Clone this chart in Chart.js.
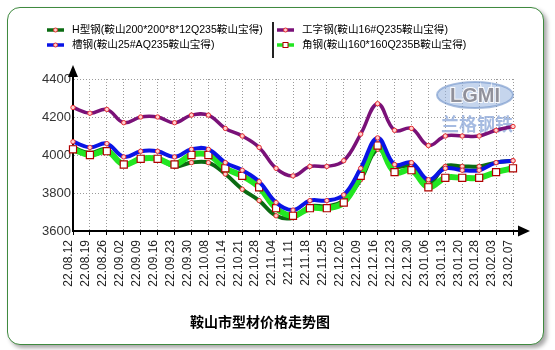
<!DOCTYPE html>
<html>
<head>
<meta charset="utf-8">
<script src="https://cdn.jsdelivr.net/npm/chart.js@4.4.1/dist/chart.umd.min.js"></script>
<style>
    html, body { margin: 0; padding: 0; background: #fff; }
    #wrap { position: relative; width: 555px; height: 350px; }
    #frame {
        position: absolute; left: 7px; top: 7px; width: 535px; height: 336px;
        border: 1px solid #3f8a3f; border-radius: 13px;
        box-shadow: 3px 3px 4px rgba(0, 0, 0, 0.35);
        background: #fff;
    }
    #chart { position: absolute; left: 0; top: 0; }
</style>
</head>
<body>
<div id="wrap">
    <div id="frame"></div>
    <canvas id="chart" width="555" height="350"></canvas>
</div>
<script>
// ============================================================================
// 鞍山市型材价格走势图 - 数据
// ============================================================================

const labels = [
    '22.08.12', '22.08.19', '22.08.26', '22.09.02', '22.09.09', '22.09.16', '22.09.23',
    '22.09.30', '22.10.08', '22.10.14', '22.10.21', '22.10.28', '22.11.04', '22.11.11',
    '22.11.18', '22.11.25', '22.12.02', '22.12.09', '22.12.16', '22.12.23', '22.12.30',
    '23.01.06', '23.01.13', '23.01.20', '23.01.28', '23.02.03', '23.02.07'
];

const seriesNames = [
    'H型钢(鞍山200*200*8*12Q235鞍山宝得)',
    '槽钢(鞍山25#AQ235鞍山宝得)',
    '工字钢(鞍山16#Q235鞍山宝得)',
    '角钢(鞍山160*160Q235B鞍山宝得)'
];

const hBeam   = [4040, 4010, 4030, 3950, 3980, 3980, 3940, 3960, 3960, 3900, 3820, 3760, 3680, 3670,
                 3730, 3730, 3760, 3870, 4030, 3940, 3940, 3850, 3940, 3940, 3940, 3960, 3970];
const channel = [4070, 4040, 4060, 3990, 4020, 4020, 3990, 4030, 4030, 3960, 3920, 3860, 3750, 3710,
                 3760, 3760, 3790, 3930, 4090, 3950, 3960, 3870, 3930, 3920, 3920, 3960, 3970];
const iBeam   = [4250, 4220, 4240, 4170, 4200, 4200, 4170, 4210, 4210, 4140, 4100, 4040, 3930, 3890,
                 3940, 3940, 3970, 4110, 4270, 4130, 4140, 4050, 4100, 4100, 4100, 4130, 4150];
const angle   = [4030, 4000, 4020, 3950, 3980, 3980, 3950, 4000, 4000, 3930, 3890, 3830, 3720, 3680,
                 3720, 3720, 3750, 3890, 4050, 3910, 3920, 3830, 3880, 3880, 3880, 3910, 3930];

const yTicks = [3600, 3800, 4000, 4200, 4400];
const chartTitle = '鞍山市型材价格走势图';
const watermarkText = '兰格钢铁';

// 系列颜色 (图例顺序)
const lineColors = ['#0b6b12', '#0a14e6', '#7a1178', '#22e622'];
const lineWidths = [4, 4, 3.5, 6];

const CJK = '"Liberation Sans", Arial, "Noto Sans CJK SC", sans-serif';

// 圆形标记
function circlePoint(color, width) {
    return {
        borderColor: color, borderWidth: width, tension: 0.4,
        pointStyle: 'circle', pointRadius: 2.2, pointBorderWidth: 1,
        pointBorderColor: '#e53030', pointBackgroundColor: '#ffd0d0'
    };
}

// dataset 0 drawn on top
const datasets = [
    { label: seriesNames[2], data: iBeam, ...circlePoint(lineColors[2], lineWidths[2]) },
    { label: seriesNames[1], data: channel, ...circlePoint(lineColors[1], lineWidths[1]) },
    {
        label: seriesNames[3], data: angle, borderColor: lineColors[3], borderWidth: lineWidths[3],
        tension: 0.4, pointStyle: 'rect', pointRadius: 5, pointBorderWidth: 1.2,
        pointBorderColor: '#b00000', pointBackgroundColor: '#ffffff'
    },
    { label: seriesNames[0], data: hBeam, ...circlePoint(lineColors[0], lineWidths[0]) }
];

// ----------------------------------------------------------------------------
// 自定义绘制: 图例, 箭头, 标题, 水印
// ----------------------------------------------------------------------------
const decorPlugin = {
    id: 'decor',
    beforeDatasetsDraw(chart) {
        const ctx = chart.ctx;
        ctx.save();
        // 水印 logo
        ctx.beginPath();
        ctx.ellipse(475, 95, 38, 13, 0, 0, Math.PI * 2);
        ctx.fillStyle = 'rgba(150, 178, 222, 0.55)';
        ctx.fill();
        ctx.lineWidth = 2;
        ctx.strokeStyle = 'rgba(110, 145, 200, 0.6)';
        ctx.stroke();
        ctx.font = 'bold 20px "Liberation Sans", Arial, sans-serif';
        ctx.textAlign = 'center';
        ctx.textBaseline = 'middle';
        ctx.lineWidth = 2;
        ctx.strokeStyle = 'rgba(255, 255, 255, 0.9)';
        ctx.strokeText('LGMI', 475, 96);
        ctx.fillStyle = 'rgba(135, 135, 145, 0.9)';
        ctx.fillText('LGMI', 475, 96);
        ctx.font = 'bold 18px "Noto Sans CJK SC", sans-serif';
        ctx.fillStyle = 'rgba(150, 175, 220, 0.85)';
        ctx.fillText(watermarkText, 477, 124);
        ctx.restore();
    },
    afterDraw(chart) {
        const ctx = chart.ctx;
        const area = chart.chartArea;
        ctx.save();

        // 坐标轴箭头
        ctx.fillStyle = '#000';
        ctx.beginPath();
        ctx.moveTo(area.left, 65);
        ctx.lineTo(area.left - 5, 77);
        ctx.lineTo(area.left + 5, 77);
        ctx.closePath();
        ctx.fill();
        ctx.lineWidth = 2;
        ctx.strokeStyle = '#000';
        ctx.beginPath();
        ctx.moveTo(area.left, area.top);
        ctx.lineTo(area.left, 76);
        ctx.moveTo(area.right, area.bottom);
        ctx.lineTo(519, area.bottom);
        ctx.stroke();
        ctx.beginPath();
        ctx.moveTo(530, area.bottom);
        ctx.lineTo(518, area.bottom - 5.5);
        ctx.lineTo(518, area.bottom + 5.5);
        ctx.closePath();
        ctx.fill();

        // 图例 (两列, 中间分隔线)
        const pos = [[47, 30], [47, 45], [277, 30], [277, 45]];
        ctx.font = '10.6px ' + CJK;
        ctx.textBaseline = 'middle';
        ctx.textAlign = 'left';
        seriesNames.forEach((name, k) => {
            const [lx, ly] = pos[k];
            ctx.strokeStyle = lineColors[k];
            ctx.lineWidth = 3.5;
            ctx.beginPath();
            ctx.moveTo(lx, ly);
            ctx.lineTo(lx + 17, ly);
            ctx.stroke();
            ctx.lineWidth = 1;
            if (k === 3) {
                ctx.fillStyle = '#fff';
                ctx.strokeStyle = '#b00000';
                ctx.fillRect(lx + 6, ly - 2.5, 5, 5);
                ctx.strokeRect(lx + 6, ly - 2.5, 5, 5);
            } else {
                ctx.fillStyle = '#ffd0d0';
                ctx.strokeStyle = '#e53030';
                ctx.beginPath();
                ctx.arc(lx + 8.5, ly, 2, 0, Math.PI * 2);
                ctx.fill();
                ctx.stroke();
            }
            ctx.fillStyle = '#000';
            ctx.fillText(name, lx + 25, ly + 0.5);
        });
        ctx.strokeStyle = '#222';
        ctx.lineWidth = 2;
        ctx.beginPath();
        ctx.moveTo(273, 22);
        ctx.lineTo(273, 58);
        ctx.stroke();

        // 标题
        ctx.font = 'bold 14px "Noto Sans CJK SC", sans-serif';
        ctx.textAlign = 'center';
        ctx.fillStyle = '#000';
        ctx.fillText(chartTitle, 260, 322);
        ctx.restore();
    }
};

// ----------------------------------------------------------------------------
// 图表生成
// ----------------------------------------------------------------------------
const canvas = document.getElementById('chart');
new Chart(canvas, {
    type: 'line',
    data: { labels: labels, datasets: datasets },
    options: {
        responsive: false,
        animation: false,
        devicePixelRatio: 1,
        layout: { padding: { left: 0, top: 79, right: 42, bottom: 0 } },
        plugins: { legend: { display: false }, tooltip: { enabled: false } },
        scales: {
            x: {
                type: 'category',
                afterFit(scale) { scale.height = 119; },
                grid: { color: '#9a9a9a', lineWidth: 1, tickLength: 4, tickColor: '#000', tickWidth: 1 },
                border: { display: true, color: '#000', width: 2, dash: [1, 2] },
                ticks: {
                    autoSkip: false, maxRotation: 90, minRotation: 90, labelOffset: -4,
                    padding: 5, color: '#222', font: { family: CJK, size: 12 }
                }
            },
            y: {
                min: 3600, max: 4400,
                afterFit(scale) { scale.width = 73; },
                afterBuildTicks(scale) { scale.ticks = yTicks.map(v => ({ value: v })); },
                grid: { color: '#9a9a9a', lineWidth: 1, drawTicks: false },
                border: { display: true, color: '#000', width: 2, dash: [1, 2] },
                ticks: {
                    padding: 2, color: '#333', font: { family: CJK, size: 13 },
                    callback: (value) => String(value)
                }
            }
        }
    },
    plugins: [decorPlugin]
});
</script>
</body>
</html>
